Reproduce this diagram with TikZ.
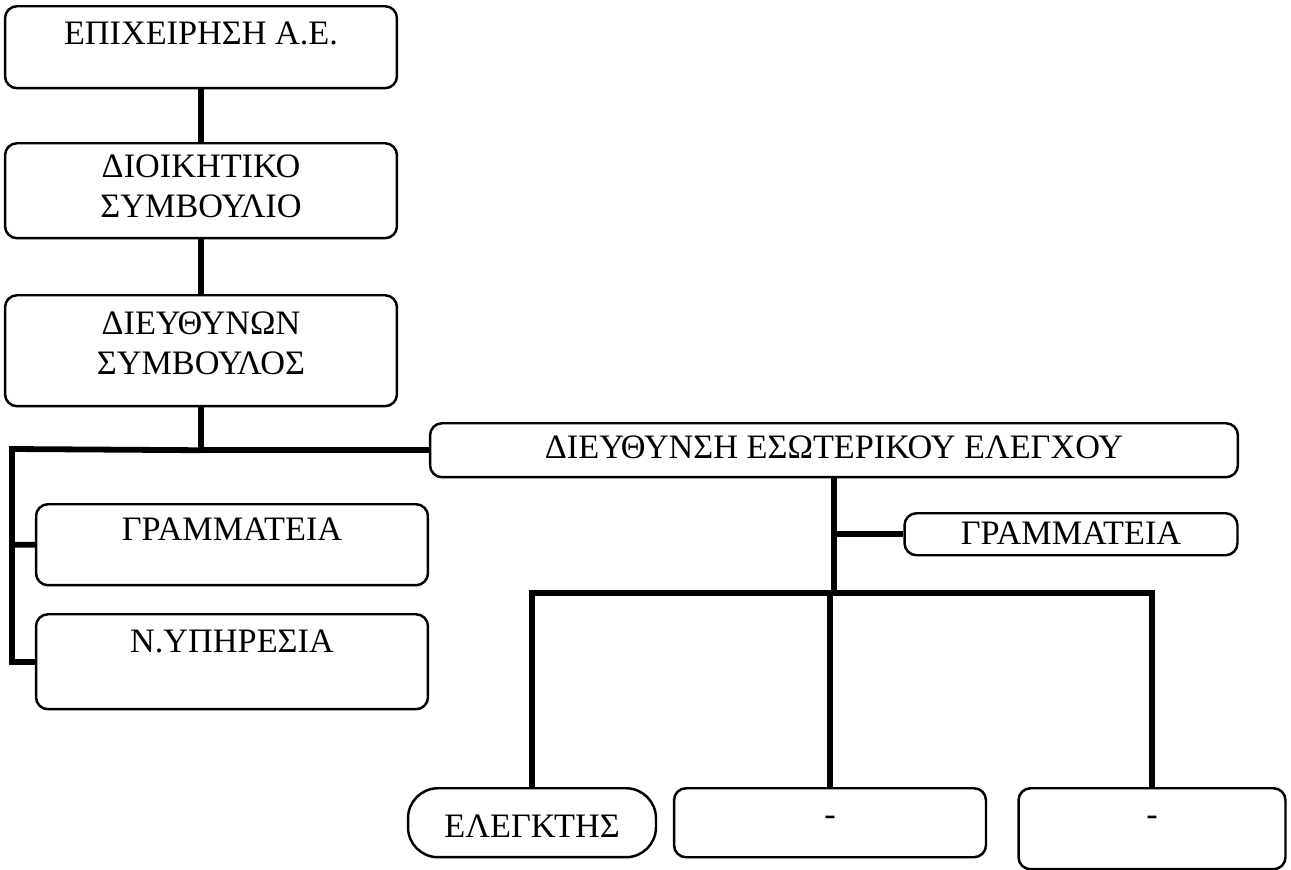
\documentclass[tikz,border=0pt]{standalone}
\usepackage{fontspec}
\setmainfont{Liberation Serif}
\newfontfamily\orgfont{Liberation Serif}
\usepackage{tikz}
\usetikzlibrary{calc}

\tikzset{
  orgbox/.style={draw, line width=1.4pt, rounded corners=0.24cm, inner sep=0pt,
    anchor=north, align=center, font=\orgfont\fontsize{19.5}{22.68}\selectfont},
  conn/.style={line width=3.3pt}
}

\begin{document}
\begin{tikzpicture}[x=0.02cm, y=-0.02cm]
\useasboundingbox (0,0) rectangle (1291,869);

\coordinate (E) at (201,5);
\coordinate (D) at (201,142);
\coordinate (G) at (201,294);
\coordinate (L) at (12,449);
\coordinate (B) at (832,593);

\node [orgbox, minimum width=7.84cm, text height=0.76cm, text depth=0.88cm] (epix) at (E) {ΕΠΙΧΕΙΡΗΣΗ Α.Ε.};
\node [orgbox, minimum width=7.84cm, text height=1.48cm, text depth=0.42cm] (dios) at (D) {ΔΙΟΙΚΗΤΙΚΟ\\ΣΥΜΒΟΥΛΙΟ};
\node [orgbox, minimum width=7.84cm, text height=1.58cm, text depth=0.64cm] (dsymb) at (G) {ΔΙΕΥΘΥΝΩΝ\\ΣΥΜΒΟΥΛΟΣ};

\node [orgbox, minimum width=7.84cm, text height=0.72cm, text depth=0.90cm] (gram) at (232,503) {ΓΡΑΜΜΑΤΕΙΑ};
\node [orgbox, minimum width=7.84cm, text height=0.76cm, text depth=1.14cm] (nyp) at (232,613) {Ν.ΥΠΗΡΕΣΙΑ};

\node [orgbox, minimum width=16.16cm, text height=0.70cm, text depth=0.38cm] (dee) at (834,422) {ΔΙΕΥΘΥΝΣΗ ΕΣΩΤΕΡΙΚΟΥ ΕΛΕΓΧΟΥ};
\node [orgbox, minimum width=6.66cm, text height=0.62cm, text depth=0.22cm] (sgram) at (1071,512) {ΓΡΑΜΜΑΤΕΙΑ};

\node [orgbox, rounded corners=0.6cm, minimum width=4.96cm, text height=0.98cm, text depth=0.40cm] (elk) at (532,787) {ΕΛΕΓΚΤΗΣ};
\node [orgbox, minimum width=6.24cm, text height=0.74cm, text depth=0.64cm] (kena) at (830,787) {-};
\node [orgbox, minimum width=5.34cm, text height=0.74cm, text depth=0.88cm] (kenb) at (1152,787) {-};

\draw [conn] (epix) -- (dios);
\draw [conn] (dios) -- (dsymb);
\draw [conn] (dsymb.south) |- (dee.west);
\draw [conn] (dsymb.south |- dee.west) -- (L) |- (gram.west);
\draw [conn] (L) |- (nyp.west);

\draw [conn] (dee.south) -- (dee.south |- B);
\draw [conn] (dee.south |- sgram.west) -- (sgram.west);
\draw [conn] (elk.north) -- (elk.north |- B) -- (kenb.north |- B) -- (kenb.north);
\draw [conn] (kena.north |- B) -- (kena.north);

\end{tikzpicture}
\end{document}
